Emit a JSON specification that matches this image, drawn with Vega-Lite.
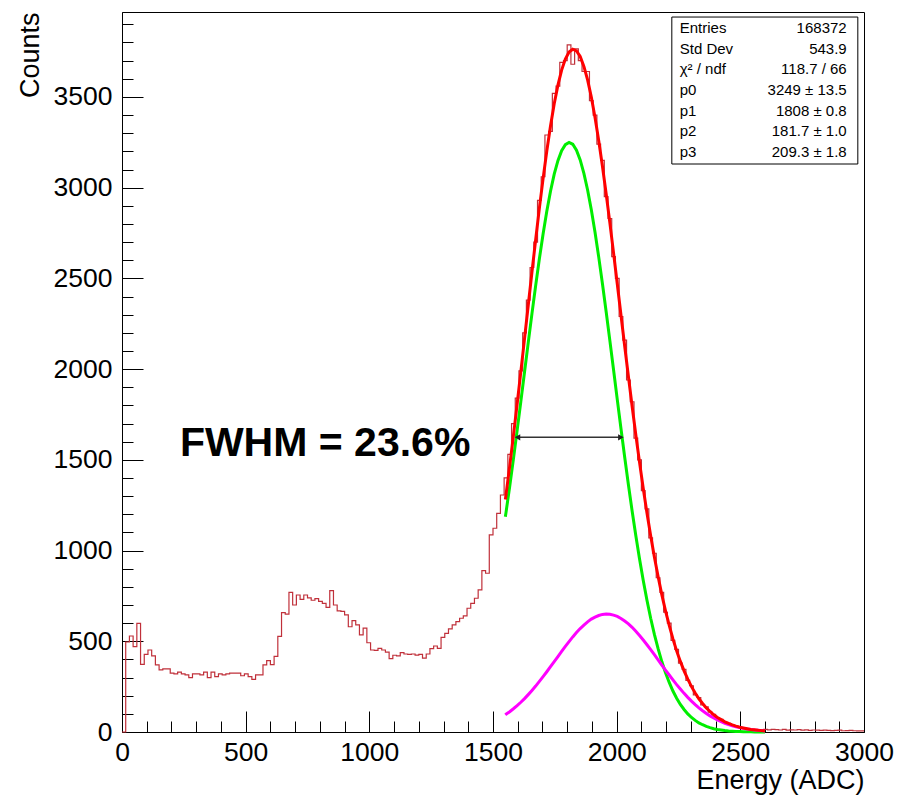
{
"$schema": "https://vega.github.io/schema/vega-lite/v6.json",
"width": 742, "height": 720,
"autosize": {"type": "none"},
"padding": {"left": 122, "top": 12, "right": 35, "bottom": 63},
"background": "white",
"config": {
  "view": {"stroke": "black", "strokeWidth": 1},
  "font": "Liberation Sans",
  "axis": {"grid": false, "domainColor": "black", "domainWidth": 1, "tickColor": "black", "tickWidth": 1, "labelColor": "black", "titleColor": "black", "labelFont": "Liberation Sans", "titleFont": "Liberation Sans", "titleFontWeight": "normal", "labelFontSize": 26.5, "titleFontSize": 27}
},
"datasets": {
  "hist": [
    {"E":0,"N":0},{"E":15,"N":496},{"E":30,"N":529},{"E":45,"N":470},{"E":60,"N":599},{"E":75,"N":373},{"E":90,"N":428},{"E":105,"N":452},{"E":120,"N":420},{"E":135,"N":370},
    {"E":150,"N":342},{"E":165,"N":348},{"E":180,"N":348},{"E":195,"N":325},{"E":210,"N":320},{"E":225,"N":330},{"E":240,"N":320},{"E":255,"N":315},{"E":270,"N":300},{"E":285,"N":320},
    {"E":300,"N":320},{"E":315,"N":315},{"E":330,"N":330},{"E":345,"N":300},{"E":360,"N":330},{"E":375,"N":305},{"E":390,"N":320},{"E":405,"N":315},{"E":420,"N":320},{"E":435,"N":325},
    {"E":450,"N":325},{"E":465,"N":325},{"E":480,"N":310},{"E":495,"N":320},{"E":510,"N":305},{"E":525,"N":290},{"E":540,"N":315},{"E":555,"N":315},{"E":570,"N":370},{"E":585,"N":393},
    {"E":600,"N":371},{"E":615,"N":417},{"E":630,"N":527},{"E":645,"N":658},{"E":660,"N":650},{"E":675,"N":770},{"E":690,"N":700},{"E":705,"N":755},{"E":720,"N":731},{"E":735,"N":755},
    {"E":750,"N":739},{"E":765,"N":726},{"E":780,"N":735},{"E":795,"N":720},{"E":810,"N":709},{"E":825,"N":687},{"E":840,"N":779},{"E":855,"N":700},{"E":870,"N":667},{"E":885,"N":665},
    {"E":900,"N":645},{"E":915,"N":580},{"E":930,"N":614},{"E":945,"N":590},{"E":960,"N":535},{"E":975,"N":572},{"E":990,"N":492},{"E":1005,"N":452},{"E":1020,"N":450},{"E":1035,"N":461},
    {"E":1050,"N":452},{"E":1065,"N":440},{"E":1080,"N":404},{"E":1095,"N":423},{"E":1110,"N":420},{"E":1125,"N":437},{"E":1140,"N":430},{"E":1155,"N":428},{"E":1170,"N":430},{"E":1185,"N":424},
    {"E":1200,"N":428},{"E":1215,"N":407},{"E":1230,"N":430},{"E":1245,"N":460},{"E":1260,"N":474},{"E":1275,"N":461},{"E":1290,"N":522},{"E":1305,"N":544},{"E":1320,"N":568},{"E":1335,"N":590},
    {"E":1350,"N":608},{"E":1365,"N":627},{"E":1380,"N":640},{"E":1395,"N":682},{"E":1410,"N":709},{"E":1425,"N":737},{"E":1440,"N":783},{"E":1455,"N":889},{"E":1470,"N":875},{"E":1485,"N":1086},
    {"E":1500,"N":1123},{"E":1515,"N":1205},{"E":1530,"N":1306},{"E":1545,"N":1400},{"E":1560,"N":1530},{"E":1575,"N":1700},{"E":1590,"N":1840},{"E":1605,"N":1990},{"E":1620,"N":2200},{"E":1635,"N":2380},
    {"E":1650,"N":2560},{"E":1665,"N":2700},{"E":1680,"N":2930},{"E":1695,"N":3060},{"E":1710,"N":3290},{"E":1725,"N":3310},{"E":1740,"N":3520},{"E":1755,"N":3560},{"E":1770,"N":3690},{"E":1785,"N":3700},
    {"E":1800,"N":3787},{"E":1815,"N":3680},{"E":1830,"N":3765},{"E":1845,"N":3700},{"E":1860,"N":3640},{"E":1875,"N":3640},{"E":1890,"N":3480},{"E":1905,"N":3400},{"E":1920,"N":3240},{"E":1935,"N":3150},
    {"E":1950,"N":2950},{"E":1965,"N":2830},{"E":1980,"N":2620},{"E":1995,"N":2500},{"E":2010,"N":2290},{"E":2025,"N":2160},{"E":2040,"N":1940},{"E":2055,"N":1820},{"E":2070,"N":1620},{"E":2085,"N":1500},
    {"E":2100,"N":1330},{"E":2115,"N":1230},{"E":2130,"N":1070},{"E":2145,"N":985},{"E":2160,"N":850},{"E":2175,"N":770},{"E":2190,"N":660},{"E":2205,"N":600},{"E":2220,"N":505},{"E":2235,"N":455},
    {"E":2250,"N":380},{"E":2265,"N":345},{"E":2280,"N":285},{"E":2295,"N":255},{"E":2310,"N":205},{"E":2325,"N":190},{"E":2340,"N":150},{"E":2355,"N":138},{"E":2370,"N":110},{"E":2385,"N":97},
    {"E":2400,"N":76},{"E":2415,"N":70},{"E":2430,"N":55},{"E":2445,"N":48},{"E":2460,"N":38},{"E":2475,"N":34},{"E":2490,"N":25},{"E":2505,"N":23},{"E":2520,"N":18},{"E":2535,"N":16},
    {"E":2550,"N":12},{"E":2565,"N":11},{"E":2580,"N":10},{"E":2595,"N":14},{"E":2610,"N":12},{"E":2625,"N":15},{"E":2640,"N":13},{"E":2655,"N":11},{"E":2670,"N":14},{"E":2685,"N":10},
    {"E":2700,"N":12},{"E":2715,"N":11},{"E":2730,"N":13},{"E":2745,"N":10},{"E":2760,"N":12},{"E":2775,"N":9},{"E":2790,"N":11},{"E":2805,"N":10},{"E":2820,"N":9},{"E":2835,"N":10},
    {"E":2850,"N":9},{"E":2865,"N":8},{"E":2880,"N":9},{"E":2895,"N":10},{"E":2910,"N":7},{"E":2925,"N":8},{"E":2940,"N":9},{"E":2955,"N":7},{"E":2970,"N":6},{"E":2985,"N":6},
    {"E":3000,"N":6}
  ],
  "fit": [
    {"E":1550,"g":1186,"m":95,"t":1281},{"E":1552.5,"g":1209,"m":98,"t":1307},{"E":1567.5,"g":1353,"m":112,"t":1465},{"E":1582.5,"g":1504,"m":128,"t":1632},{"E":1597.5,"g":1661,"m":145,"t":1806},
    {"E":1612.5,"g":1821,"m":164,"t":1985},{"E":1627.5,"g":1984,"m":184,"t":2168},{"E":1642.5,"g":2146,"m":206,"t":2352},{"E":1657.5,"g":2306,"m":229,"t":2535},{"E":1672.5,"g":2460,"m":253,"t":2713},
    {"E":1687.5,"g":2608,"m":279,"t":2887},{"E":1702.5,"g":2745,"m":305,"t":3050},{"E":1717.5,"g":2870,"m":332,"t":3202},{"E":1732.5,"g":2980,"m":360,"t":3340},{"E":1747.5,"g":3074,"m":388,"t":3462},
    {"E":1762.5,"g":3149,"m":416,"t":3565},{"E":1777.5,"g":3204,"m":444,"t":3648},{"E":1792.5,"g":3237,"m":472,"t":3709},{"E":1807.5,"g":3249,"m":498,"t":3747},{"E":1822.5,"g":3239,"m":524,"t":3763},
    {"E":1837.5,"g":3206,"m":548,"t":3754},{"E":1852.5,"g":3153,"m":570,"t":3723},{"E":1867.5,"g":3079,"m":589,"t":3668},{"E":1882.5,"g":2987,"m":607,"t":3594},{"E":1897.5,"g":2878,"m":622,"t":3500},
    {"E":1912.5,"g":2754,"m":633,"t":3387},{"E":1927.5,"g":2617,"m":642,"t":3259},{"E":1942.5,"g":2470,"m":648,"t":3118},{"E":1957.5,"g":2316,"m":650,"t":2966},{"E":1972.5,"g":2157,"m":649,"t":2806},
    {"E":1987.5,"g":1995,"m":644,"t":2639},{"E":2002.5,"g":1832,"m":637,"t":2469},{"E":2017.5,"g":1671,"m":626,"t":2297},{"E":2032.5,"g":1514,"m":612,"t":2126},{"E":2047.5,"g":1363,"m":596,"t":1959},
    {"E":2062.5,"g":1218,"m":577,"t":1795},{"E":2077.5,"g":1082,"m":555,"t":1637},{"E":2092.5,"g":954,"m":532,"t":1486},{"E":2107.5,"g":835,"m":507,"t":1342},{"E":2122.5,"g":726,"m":481,"t":1207},
    {"E":2137.5,"g":627,"m":454,"t":1081},{"E":2152.5,"g":538,"m":426,"t":964},{"E":2167.5,"g":459,"m":398,"t":857},{"E":2182.5,"g":388,"m":369,"t":757},{"E":2197.5,"g":327,"m":341,"t":668},
    {"E":2212.5,"g":273,"m":314,"t":587},{"E":2227.5,"g":226,"m":287,"t":513},{"E":2242.5,"g":186,"m":261,"t":447},{"E":2257.5,"g":152,"m":237,"t":389},{"E":2272.5,"g":124,"m":213,"t":337},
    {"E":2287.5,"g":100,"m":191,"t":291},{"E":2302.5,"g":80,"m":170,"t":250},{"E":2317.5,"g":64,"m":151,"t":215},{"E":2332.5,"g":50,"m":133,"t":183},{"E":2347.5,"g":40,"m":117,"t":157},
    {"E":2362.5,"g":31,"m":102,"t":133},{"E":2377.5,"g":24,"m":89,"t":113},{"E":2392.5,"g":18,"m":77,"t":95},{"E":2407.5,"g":14,"m":66,"t":80},{"E":2422.5,"g":11,"m":57,"t":68},
    {"E":2437.5,"g":8,"m":48,"t":56},{"E":2452.5,"g":6,"m":41,"t":47},{"E":2467.5,"g":4.5,"m":34,"t":39},{"E":2482.5,"g":3.3,"m":29,"t":32},{"E":2497.5,"g":2.4,"m":24,"t":26},
    {"E":2512.5,"g":1.7,"m":20,"t":22},{"E":2527.5,"g":1.2,"m":16.5,"t":18},{"E":2542.5,"g":0.9,"m":13.5,"t":14},{"E":2557.5,"g":0.6,"m":11,"t":12},{"E":2572.5,"g":0.4,"m":9,"t":9.5},
    {"E":2587.5,"g":0.3,"m":7.3,"t":7.6},{"E":2600,"g":0.2,"m":6.1,"t":6.3}
  ],
  "arrow": [{"x1":1596,"x2":2020,"y":1624}],
  "heads": [{"E":1599,"y":1624,"s":"left"},{"E":2017,"y":1624,"s":"right"}],
  "label": [{"E":234,"y":1520,"t":"FWHM = 23.6%"}],
  "stats": [
    {"row":0,"k":"Entries","v":"168372"},
    {"row":1,"k":"Std Dev","v":"543.9"},
    {"row":2,"k":"χ² / ndf","v":"118.7 / 66"},
    {"row":3,"k":"p0","v":"3249 ± 13.5"},
    {"row":4,"k":"p1","v":"1808 ± 0.8"},
    {"row":5,"k":"p2","v":"181.7 ± 1.0"},
    {"row":6,"k":"p3","v":"209.3 ± 1.8"}
  ]
},
"layer": [
  {
    "data": {"name": "hist"},
    "mark": {"type": "line", "interpolate": "step-after", "color": "#c0303a", "strokeWidth": 1.2},
    "encoding": {
      "x": {"field": "E", "type": "quantitative", "scale": {"domain": [0, 3000], "nice": false, "zero": false},
        "axis": {"orient": "bottom", "values": [0,100,200,300,400,500,600,700,800,900,1000,1100,1200,1300,1400,1500,1600,1700,1800,1900,2000,2100,2200,2300,2400,2500,2600,2700,2800,2900,3000],
          "tickSize": {"condition": {"test": "datum.value % 500 === 0", "value": -21}, "value": -11},
          "labelExpr": "datum.value % 500 === 0 ? datum.label : ''", "format": "d", "labelFlush": false, "labelPadding": 28,
          "title": "Energy (ADC)", "titleAnchor": "end", "titlePadding": 2}},
      "y": {"field": "N", "type": "quantitative", "scale": {"domain": [0, 3968], "nice": false, "zero": false},
        "axis": {"orient": "left", "values": [0,100,200,300,400,500,600,700,800,900,1000,1100,1200,1300,1400,1500,1600,1700,1800,1900,2000,2100,2200,2300,2400,2500,2600,2700,2800,2900,3000,3100,3200,3300,3400,3500,3600,3700,3800,3900],
          "tickSize": {"condition": {"test": "datum.value % 500 === 0", "value": -21}, "value": -11},
          "labelExpr": "datum.value % 500 === 0 ? datum.label : ''", "format": "d", "labelFlush": false, "labelPadding": 31,
          "title": "Counts", "titleAnchor": "end", "titlePadding": 9}}
    }
  },
  {
    "data": {"name": "fit"},
    "mark": {"type": "line", "color": "#00ee00", "strokeWidth": 3},
    "encoding": {
      "x": {"field": "E", "type": "quantitative", "scale": {"domain": [0, 3000], "nice": false, "zero": false}, "axis": null},
      "y": {"field": "g", "type": "quantitative", "scale": {"domain": [0, 3968], "nice": false, "zero": false}, "axis": null}
    }
  },
  {
    "data": {"name": "fit"},
    "mark": {"type": "line", "color": "#ff00ff", "strokeWidth": 3},
    "encoding": {
      "x": {"field": "E", "type": "quantitative", "scale": {"domain": [0, 3000], "nice": false, "zero": false}, "axis": null},
      "y": {"field": "m", "type": "quantitative", "scale": {"domain": [0, 3968], "nice": false, "zero": false}, "axis": null}
    }
  },
  {
    "data": {"name": "fit"},
    "mark": {"type": "line", "color": "#ff0000", "strokeWidth": 3},
    "encoding": {
      "x": {"field": "E", "type": "quantitative", "scale": {"domain": [0, 3000], "nice": false, "zero": false}, "axis": null},
      "y": {"field": "t", "type": "quantitative", "scale": {"domain": [0, 3968], "nice": false, "zero": false}, "axis": null}
    }
  },
  {
    "data": {"name": "arrow"},
    "mark": {"type": "rule", "color": "#333333", "strokeWidth": 1.5},
    "encoding": {
      "x": {"field": "x1", "type": "quantitative", "scale": {"domain": [0, 3000], "nice": false, "zero": false}, "axis": null},
      "x2": {"field": "x2"},
      "y": {"field": "y", "type": "quantitative", "scale": {"domain": [0, 3968], "nice": false, "zero": false}, "axis": null}
    }
  },
  {
    "data": {"name": "heads"},
    "mark": {"type": "point", "filled": true, "opacity": 1, "color": "#222222", "size": 40},
    "encoding": {
      "x": {"field": "E", "type": "quantitative", "scale": {"domain": [0, 3000], "nice": false, "zero": false}, "axis": null},
      "y": {"field": "y", "type": "quantitative", "scale": {"domain": [0, 3968], "nice": false, "zero": false}, "axis": null},
      "shape": {"field": "s", "type": "nominal", "scale": {"domain": ["left", "right"], "range": ["triangle-left", "triangle-right"]}, "legend": null}
    }
  },
  {
    "data": {"name": "label"},
    "mark": {"type": "text", "align": "left", "baseline": "alphabetic", "fontSize": 41, "fontWeight": "bold", "font": "Liberation Sans", "color": "black"},
    "encoding": {
      "x": {"field": "E", "type": "quantitative", "scale": {"domain": [0, 3000], "nice": false, "zero": false}, "axis": null},
      "y": {"field": "y", "type": "quantitative", "scale": {"domain": [0, 3968], "nice": false, "zero": false}, "axis": null},
      "text": {"field": "t"}
    }
  },
  {
    "layer": [
      {
        "data": {"values": [{}]},
        "mark": {"type": "rect", "fill": "white", "stroke": "black", "strokeWidth": 1},
        "encoding": {
          "x": {"datum": 2223, "type": "quantitative", "scale": {"domain": [0, 3000], "nice": false, "zero": false}, "axis": null},
          "x2": {"datum": 2975},
          "y": {"datum": -0.53, "type": "quantitative", "scale": {"domain": [-0.774, 34.06], "reverse": true, "nice": false, "zero": false}, "axis": null},
          "y2": {"datum": 6.58}
        }
      },
      {
        "data": {"name": "stats"},
        "mark": {"type": "text", "align": "left", "baseline": "middle", "fontSize": 15, "font": "Liberation Sans", "color": "black"},
        "encoding": {
          "x": {"datum": 2255, "type": "quantitative", "scale": {"domain": [0, 3000], "nice": false, "zero": false}, "axis": null},
          "y": {"field": "row", "type": "quantitative", "axis": null},
          "text": {"field": "k"}
        }
      },
      {
        "data": {"name": "stats"},
        "mark": {"type": "text", "align": "right", "baseline": "middle", "fontSize": 15, "font": "Liberation Sans", "color": "black"},
        "encoding": {
          "x": {"datum": 2930, "type": "quantitative", "scale": {"domain": [0, 3000], "nice": false, "zero": false}, "axis": null},
          "y": {"field": "row", "type": "quantitative", "axis": null},
          "text": {"field": "v"}
        }
      }
    ]
  }
],
"resolve": {"scale": {"y": "independent"}, "axis": {"x": "independent", "y": "independent"}}
}
